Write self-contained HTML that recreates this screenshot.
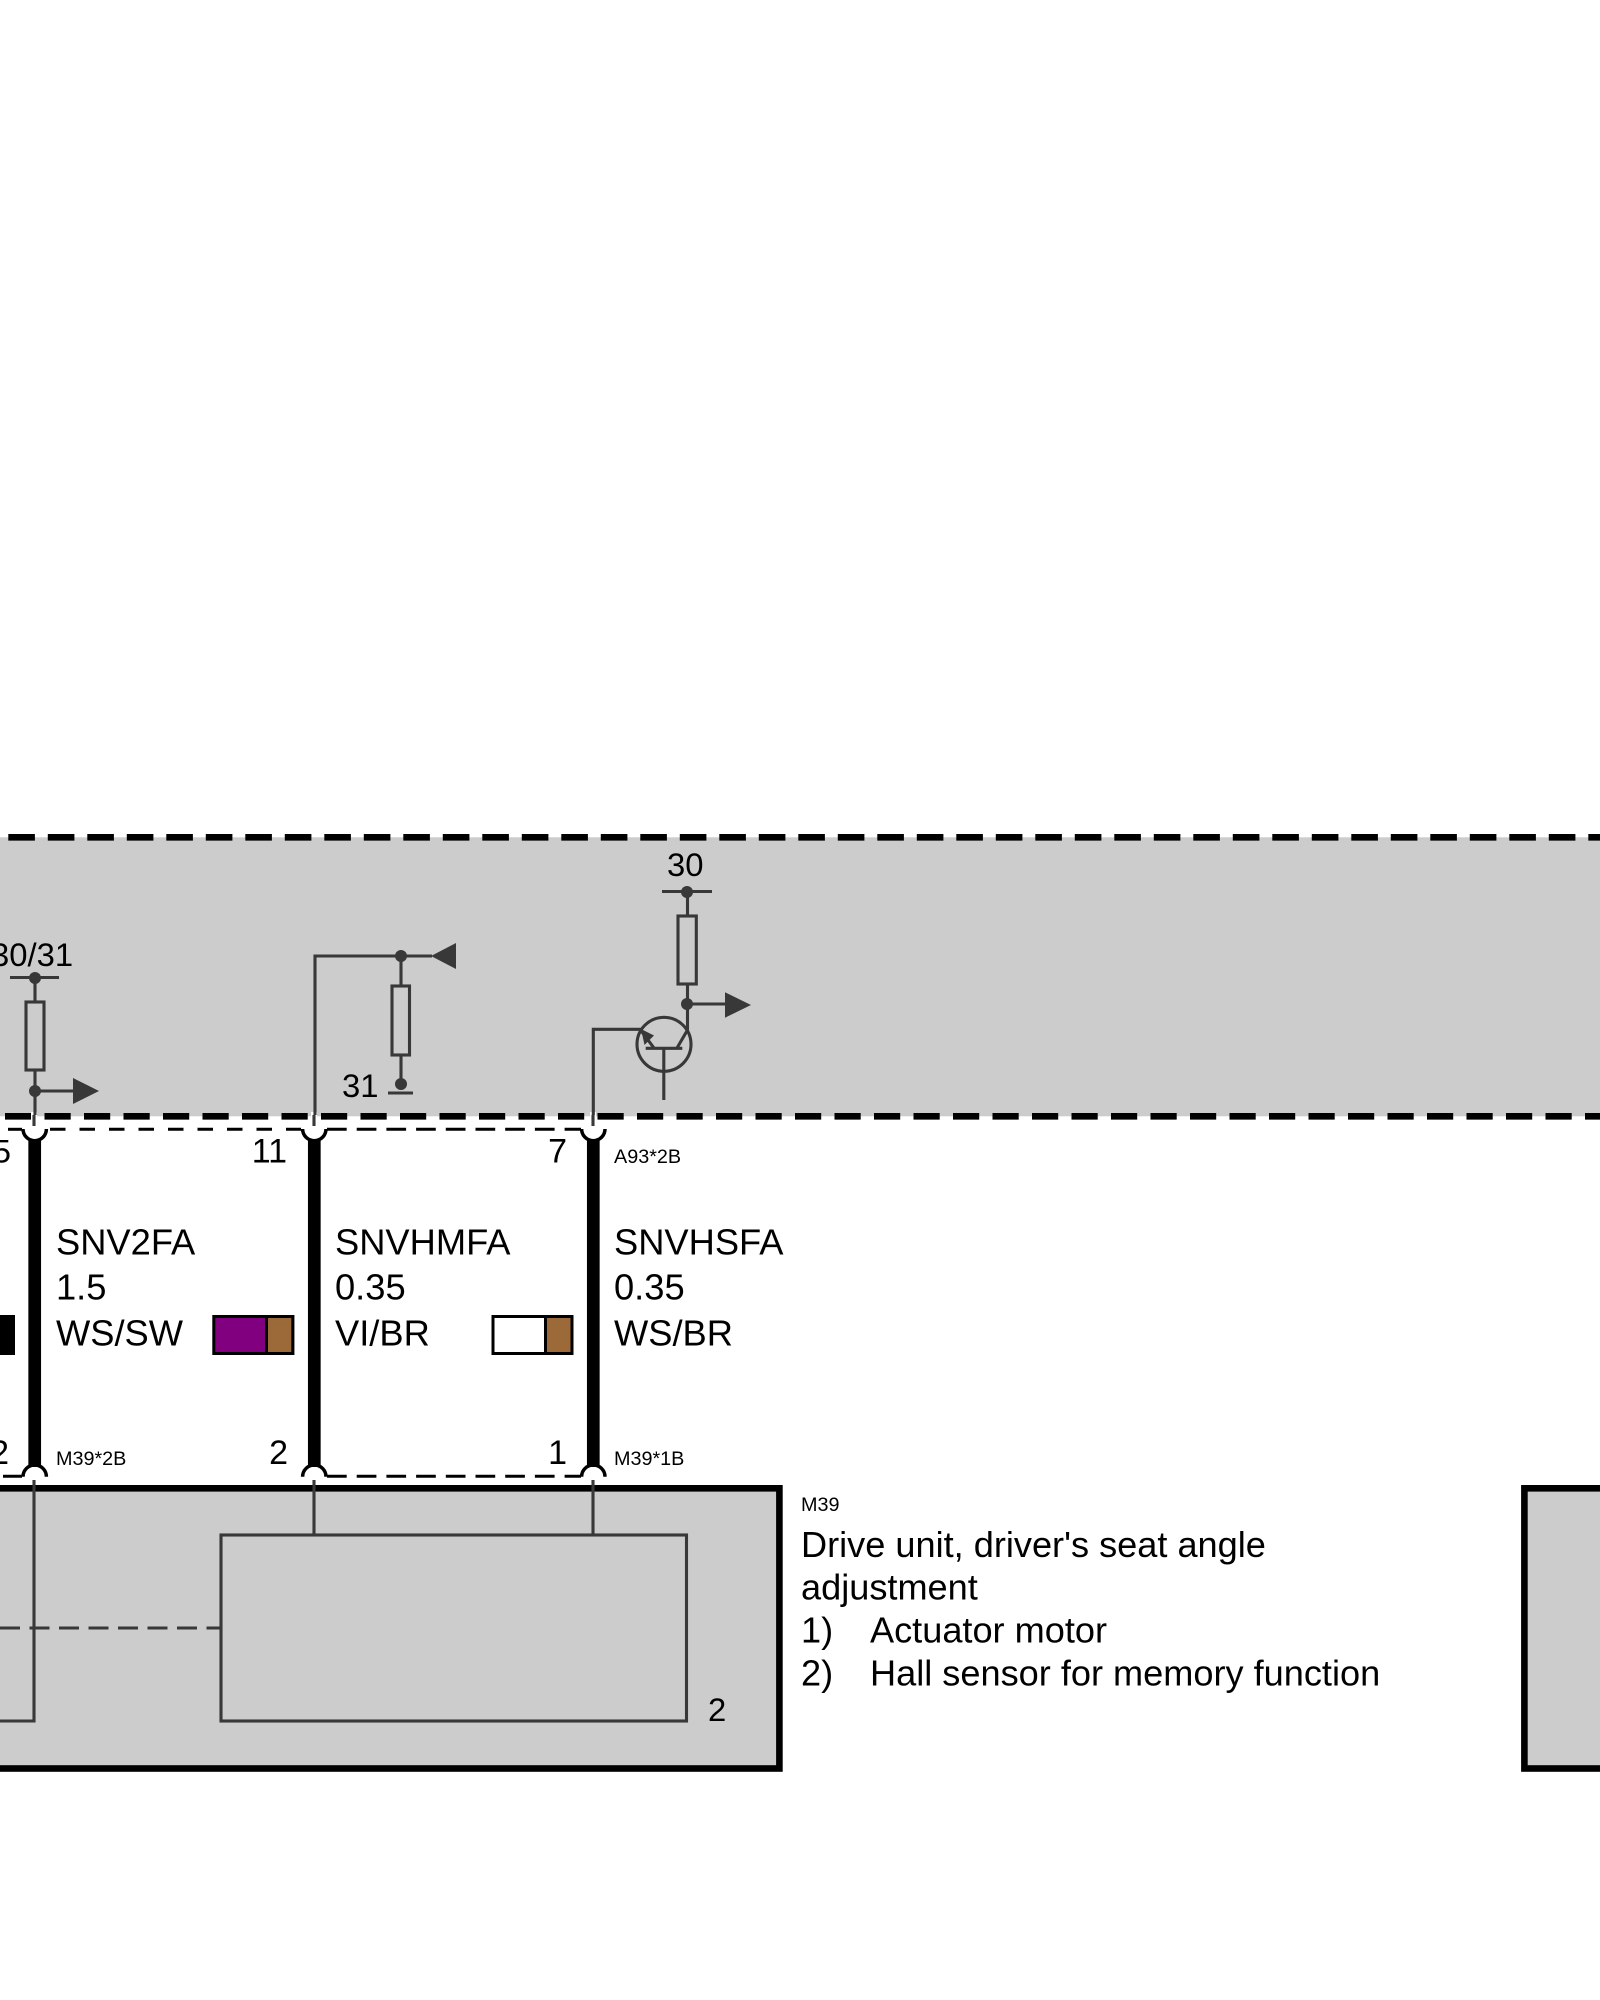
<!DOCTYPE html>
<html><head><meta charset="utf-8"><style>
html,body{margin:0;padding:0;background:#fff}
svg{display:block}
text{font-family:"Liberation Sans",sans-serif;fill:#000}
.w{font-size:36.3px}.t{font-size:36.15px}.n{font-size:32.8px}.s{font-size:19.8px}
.d{stroke:#383838;stroke-width:3.1;fill:none}
.f{fill:#383838}
</style></head><body>
<svg xmlns="http://www.w3.org/2000/svg" width="1600" height="2000" viewBox="0 0 1600 2000">
<rect width="1600" height="2000" fill="#fff"/>
<rect x="0" y="837.3" width="1600" height="279" fill="#cccccc"/>
<path d="M8.3 837.3H1600" stroke="#000" stroke-width="6.7" stroke-dasharray="26.6 12.9"/>
<path d="M5 1116.3H1600" stroke="#000" stroke-width="6.7" stroke-dasharray="26.2 13.3"/>
<!-- thin dashed -->
<path d="M50 1129.3H301" stroke="#000" stroke-width="3" stroke-dasharray="15.5 14"/>
<path d="M8 1129.3H22" stroke="#000" stroke-width="3"/>
<path d="M327 1129.3H581" stroke="#000" stroke-width="3" stroke-dasharray="19.7 10"/>
<path d="M3 1476.3H22" stroke="#000" stroke-width="3"/>
<path d="M327 1476.3H581" stroke="#000" stroke-width="3" stroke-dasharray="19.7 10"/>
<!-- wires -->
<g fill="#fff" stroke="#000" stroke-width="3.5">
<path d="M23 1129A11.7 11.7 0 0 0 46.4 1129"/><path d="M302.6 1129A11.7 11.7 0 0 0 326 1129"/><path d="M581.6 1129A11.7 11.7 0 0 0 605 1129"/>
<path d="M23 1476.7A11.7 11.7 0 0 1 46.4 1476.7"/><path d="M302.6 1476.7A11.7 11.7 0 0 1 326 1476.7"/><path d="M581.6 1476.7A11.7 11.7 0 0 1 605 1476.7"/>
</g>
<path d="M34.7 1139V1467M314.3 1139V1467M593.3 1139V1467" stroke="#000" stroke-width="12.7"/>
<!-- white halo -->
<path d="M34 1112V1127M314 1112V1127M593 1112V1127" stroke="#fff" stroke-width="6"/>
<!-- lower box -->
<rect x="-10" y="1488.3" width="789.4" height="280.2" fill="#cccccc" stroke="#000" stroke-width="6.6"/>
<rect x="1524.4" y="1488.3" width="100" height="280.2" fill="#cccccc" stroke="#000" stroke-width="6.6"/>
<rect x="221" y="1535" width="465.5" height="186" class="d"/>
<path d="M314 1480V1535M593 1480V1535M34 1480V1721H0" class="d"/>
<path d="M0 1628H221" class="d" stroke-dasharray="20 9.5"/>
<!-- left resistor -->
<path d="M10 977.5H59M35 978V1115M34 1115V1126M35 1091H74" class="d"/>
<rect x="26" y="1002" width="18" height="68" fill="#cccccc" stroke="#383838" stroke-width="3.1"/>
<circle cx="35" cy="978" r="6" class="f"/><circle cx="35" cy="1091" r="6" class="f"/>
<path d="M73 1078L99 1091L73 1104Z" class="f"/>
<!-- mid resistor -->
<path d="M315 1115V956H432M314 1115V1126M401 956V1084M388 1093H413" class="d"/>
<rect x="392" y="986" width="17.5" height="69" fill="#cccccc" stroke="#383838" stroke-width="3.1"/>
<circle cx="401" cy="956" r="6" class="f"/><circle cx="401" cy="1084" r="6" class="f"/>
<path d="M456 943L431 956L456 969Z" class="f"/>
<!-- transistor -->
<path d="M662 891.5H712M687.5 892V1030L677 1048M687 1004H726M645.7 1048.3H682.3M663.8 1048V1100M593.3 1115V1029.3H640L654 1048M593 1115V1126" class="d"/>
<circle cx="664" cy="1044.3" r="27" class="d"/>
<rect x="678" y="916" width="18.3" height="68" fill="#cccccc" stroke="#383838" stroke-width="3.1"/>
<circle cx="687" cy="892" r="6" class="f"/><circle cx="687" cy="1004" r="6" class="f"/>
<path d="M725 992.3L751 1005L725 1017.7Z" class="f"/>
<path d="M641 1029L654 1035.5L644.5 1045Z" class="f"/>
<!-- swatches -->
<rect x="-10" y="1315" width="25" height="40" fill="#000"/>
<rect x="213.8" y="1316.5" width="79" height="37" fill="#800080" stroke="#000" stroke-width="3"/>
<rect x="266.5" y="1316.5" width="26.3" height="37" fill="#9c6a38" stroke="#000" stroke-width="3"/>
<rect x="493" y="1316.5" width="79" height="37" fill="#fff" stroke="#000" stroke-width="3"/>
<rect x="545.5" y="1316.5" width="26.5" height="37" fill="#9c6a38" stroke="#000" stroke-width="3"/>
<!-- labels -->
<text class="n" x="-9" y="966">30/31</text>
<text class="n" x="342" y="1097">31</text>
<text class="n" x="667" y="876">30</text>
<text class="n" text-anchor="end" x="11" y="1162.5">5</text>
<text class="n" style="font-size:34px" text-anchor="end" x="287" y="1162.5">11</text>
<text class="n" style="font-size:34px" text-anchor="end" x="567" y="1162.5">7</text>
<text class="s" x="614" y="1163">A93*2B</text>
<text class="n" style="font-size:34px" text-anchor="end" x="9" y="1464">2</text>
<text class="n" style="font-size:34px" text-anchor="end" x="288" y="1464">2</text>
<text class="n" style="font-size:34px" text-anchor="end" x="567" y="1464">1</text>
<text class="s" x="56" y="1465">M39*2B</text>
<text class="s" x="614" y="1465">M39*1B</text>
<text class="w" x="56" y="1254.5">SNV2FA</text><text class="w" x="56" y="1299.5">1.5</text><text class="w" x="56" y="1345.5">WS/SW</text>
<text class="w" x="335" y="1254.5">SNVHMFA</text><text class="w" x="335" y="1299.5">0.35</text><text class="w" x="335" y="1345.5">VI/BR</text>
<text class="w" x="614" y="1254.5">SNVHSFA</text><text class="w" x="614" y="1299.5">0.35</text><text class="w" x="614" y="1345.5">WS/BR</text>
<text class="n" x="708" y="1721">2</text>
<text class="s" x="801" y="1511">M39</text>
<text class="t" x="801" y="1557">Drive unit, driver's seat angle</text>
<text class="t" x="801" y="1599.5">adjustment</text>
<text class="t" x="801" y="1642.5">1)</text><text class="t" x="870" y="1642.5">Actuator motor</text>
<text class="t" x="801" y="1685.5">2)</text><text class="t" x="870" y="1685.5">Hall sensor for memory function</text>
</svg>
</body></html>
